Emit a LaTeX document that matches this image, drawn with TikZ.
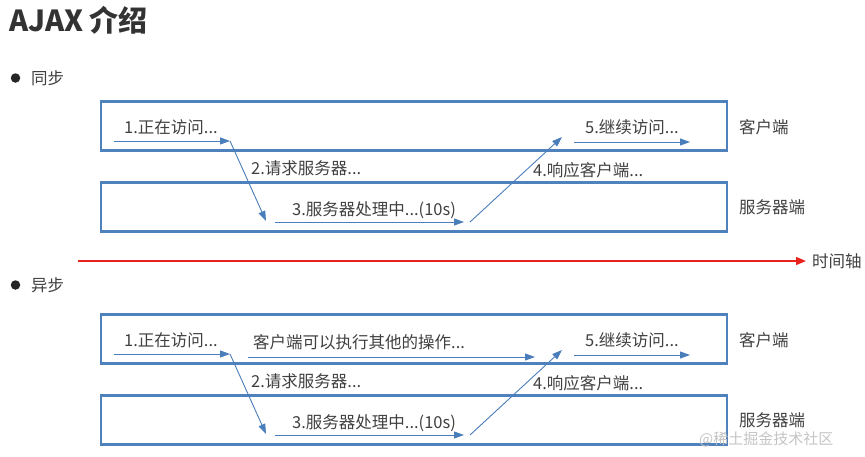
\documentclass[tikz,border=0pt]{standalone}
\usepackage{fontspec}
\setmainfont{Noto Sans CJK SC}
\usepackage{tikz}
\usetikzlibrary{arrows.meta,positioning}
\usepackage{xcolor}
\definecolor{BoxBlue}{HTML}{4F81BD}
\definecolor{FlowBlue}{HTML}{4A7EBB}
\definecolor{TextGray}{HTML}{404040}
\definecolor{TitleGray}{HTML}{333333}
\definecolor{AxisRed}{HTML}{E8231E}
\definecolor{MarkGray}{HTML}{C4C4C4}

\begin{document}
\begin{tikzpicture}[x=1pt,y=-1pt,
  lane/.style={draw=BoxBlue,line width=2.6pt,minimum width=626pt,minimum height=49pt,inner sep=0pt},
  steptxt/.style={anchor=west,inner sep=0pt,text=TextGray,font=\fontsize{16.5}{19}\selectfont},
  side/.style={anchor=west,inner sep=0pt,text=TextGray,font=\fontsize{16.5}{19}\selectfont},
  flow/.style={draw=FlowBlue,line width=0.9pt,-{Triangle[length=10pt,width=7pt]}},
  bullet/.style={circle,fill=black!85,minimum size=9.5pt,inner sep=0pt}]
  \useasboundingbox (0,0) rectangle (865,456);
  \node[anchor=west,inner sep=0pt,text=TitleGray,font=\bfseries\fontsize{29}{33}\selectfont] (title) at (9,20) {AJAX 介绍};
  \node[bullet] (dotsync) at (15.5,78) {};
  \node[side] (sync) at (31,78) {同步};
  \node[bullet] (dotasync) at (15.5,285) {};
  \node[side] (async) at (31,285) {异步};
  % time axis
  \coordinate (t0) at (78,261);
  \coordinate (t1) at (806,261);
  \draw[AxisRed,line width=1.4pt,-{Triangle[length=10pt,width=8pt]}] (t0) -- (t1);
  \node[side] (axis) at (812,261) {时间轴};
  \foreach \dy/\k in {0/s,213/a}{
    \node[lane] (cli\k) at (414,126+\dy) {};
    \node[lane] (srv\k) at (414,207+\dy) {};
    \node[side] (clilbl\k) at (739,127+\dy) {客户端};
    \node[side] (srvlbl\k) at (739,207+\dy) {服务器端};
    \node[steptxt] (one\k) at (124,127+\dy) {1.正在访问...};
    \node[steptxt] (two\k) at (251,168+\dy) {2.请求服务器...};
    \node[steptxt] (three\k) at (292,210+\dy) {3.服务器处理中...(10s)};
    \node[steptxt] (four\k) at (533,170+\dy) {4.响应客户端...};
    \node[steptxt] (five\k) at (585,127+\dy) {5.继续访问...};
    \coordinate (a1\k) at (114,141+\dy);
    \coordinate (b1\k) at (230,141+\dy);
    \coordinate (b2\k) at (266,221+\dy);
    \coordinate (a3\k) at (275,222+\dy);
    \coordinate (b3\k) at (464,222+\dy);
    \coordinate (a4\k) at (470,222+\dy);
    \coordinate (b4\k) at (562,137+\dy);
    \coordinate (a5\k) at (574,142+\dy);
    \coordinate (b5\k) at (690,142+\dy);
    \draw[flow] (a1\k) -- (b1\k);
    \draw[flow] (b1\k) -- (b2\k);
    \draw[flow] (a3\k) -- (b3\k);
    \draw[flow] (a4\k) -- (b4\k);
    \draw[flow] (a5\k) -- (b5\k);
  }
  % async only: client keeps working
  \node[steptxt] (other) at (253,342) {客户端可以执行其他的操作...};
  \coordinate (oa) at (248,357);
  \coordinate (ob) at (535,357);
  \draw[flow] (oa) -- (ob);
  \node[anchor=west,inner sep=0pt,text=MarkGray,font=\fontsize{15}{18}\selectfont] (mark) at (699,439) {@稀土掘金技术社区};
\end{tikzpicture}
\end{document}
